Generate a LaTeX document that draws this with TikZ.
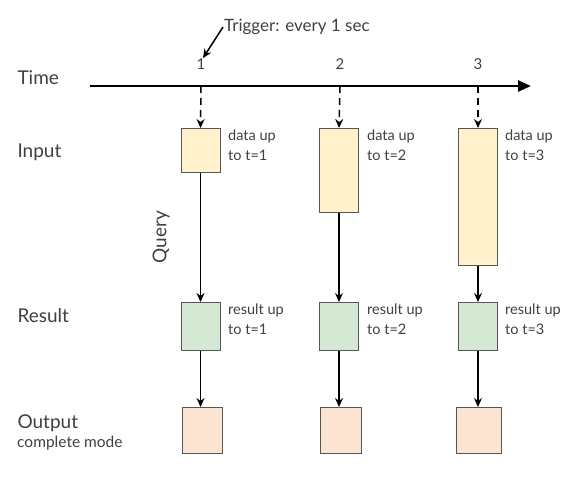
\documentclass[tikz,border=0pt]{standalone}
\usepackage{fontspec}
\setmainfont{Lato}
\usepackage{xcolor}
\usetikzlibrary{positioning,calc,arrows.meta}

\definecolor{inputfill}{HTML}{FFF2CC}
\definecolor{resultfill}{HTML}{D5E8D4}
\definecolor{outputfill}{HTML}{FCE4D2}
\definecolor{boxline}{HTML}{555555}
\definecolor{txt}{HTML}{404040}

\tikzset{
    databox/.style={draw=boxline, line width=1pt, minimum width=39pt, inner sep=0pt},
    rowlabel/.style={anchor=west, text=txt, font=\fontsize{19}{22}\selectfont},
    sidetext/.style={anchor=north west, text=txt, align=left, inner sep=0pt,
        font=\fontsize{14.5}{20}\selectfont},
    flow/.style={line width=1.5pt, -{Stealth[length=9pt,width=8pt,inset=3pt]}}
}

\begin{document}
\begin{tikzpicture}[x=1pt,y=-1pt]
    \useasboundingbox (0,0) rectangle (574,488);
    % Row labels
    \node[rowlabel] (timelbl) at (14,78) {Time};
    \node[rowlabel] (inputlbl) at (14,152) {Input};
    \node[rowlabel] (resultlbl) at (14,316) {Result};
    \node[rowlabel] (outputlbl) at (14,423) {Output};
    \node[anchor=north west, text=txt, font=\fontsize{15.5}{18}\selectfont, inner sep=0pt]
        (modelbl) at (17,436) {complete mode};
    % Time axis
    \coordinate (axstart) at (90,86);
    \coordinate (axend) at (531,86);
    \draw[line width=2.5pt, -{Triangle[length=13pt,width=11pt]}] (axstart) -- (axend);
    \coordinate (tick1) at (201,86);
    \coordinate (tick2) at (340,86);
    \coordinate (tick3) at (478,86);
    \node[text=txt, font=\fontsize{15}{17}\selectfont] (lab1) at (201,64) {1};
    \node[text=txt, font=\fontsize{15}{17}\selectfont] (lab2) at (340,64) {2};
    \node[text=txt, font=\fontsize{15}{17}\selectfont] (lab3) at (478,64) {3};
    % Trigger
    \node[anchor=west, text=txt, font=\fontsize{17}{19}\selectfont, inner sep=1pt]
        (trig) at (223,27) {Trigger: every 1 sec};
    \draw[line width=1.5pt, -{Stealth[length=9pt,width=8pt,inset=3pt]}]
        (trig.west) -- ($(lab1.north)+(2,3)$);
    % Input boxes
    \node[databox, fill=inputfill, minimum height=44pt, anchor=north] (in1) at (200.5,128) {};
    \node[databox, fill=inputfill, minimum height=84pt, anchor=north] (in2) at (339,128) {};
    \node[databox, fill=inputfill, minimum height=137pt, anchor=north] (in3) at (478,128) {};
    \node[sidetext] (intxt1) at (228,130) {data up\\to t=1};
    \node[sidetext] (intxt2) at (367,130) {data up\\to t=2};
    \node[sidetext] (intxt3) at (505,130) {data up\\to t=3};
    % Result boxes
    \node[databox, fill=resultfill, minimum height=48pt, anchor=north] (res1) at (200.5,302) {};
    \node[databox, fill=resultfill, minimum height=48pt, anchor=north] (res2) at (339,302) {};
    \node[databox, fill=resultfill, minimum height=48pt, anchor=north] (res3) at (478,302) {};
    \node[sidetext] (restxt1) at (228,304) {result up\\to t=1};
    \node[sidetext] (restxt2) at (367,304) {result up\\to t=2};
    \node[sidetext] (restxt3) at (505,304) {result up\\to t=3};
    % Output boxes
    \node[databox, fill=outputfill, minimum height=46pt, minimum width=40pt, anchor=north] (out1) at (202,407) {};
    \node[databox, fill=outputfill, minimum height=46pt, minimum width=41pt, anchor=north] (out2) at (340.5,407) {};
    \node[databox, fill=outputfill, minimum height=46pt, minimum width=45pt, anchor=north] (out3) at (478.5,407) {};
    % Query label
    \node[rotate=90, text=txt, font=\fontsize{19}{22}\selectfont] (query) at (161,237) {Query};
    % Triggers from the axis
    \draw[flow, dash pattern=on 7pt off 5pt] (tick1) -- (in1.north);
    \draw[flow, dash pattern=on 7pt off 5pt] (tick2) -- (in2.north);
    \draw[flow, dash pattern=on 7pt off 5pt] (tick3) -- (in3.north);
    % Query runs
    \draw[flow] (in1.south) -- (res1.north);
    \draw[flow, line width=1.2pt] (in2.south) -- (res2.north);
    \draw[flow] (in3.south) -- (res3.north);
    % Output
    \draw[flow, line width=1.2pt] (res1.south) -- (res1.south |- out1.north);
    \draw[flow] (res2.south) -- (res2.south |- out2.north);
    \draw[flow, line width=1.2pt] (res3.south) -- (res3.south |- out3.north);
\end{tikzpicture}
\end{document}
